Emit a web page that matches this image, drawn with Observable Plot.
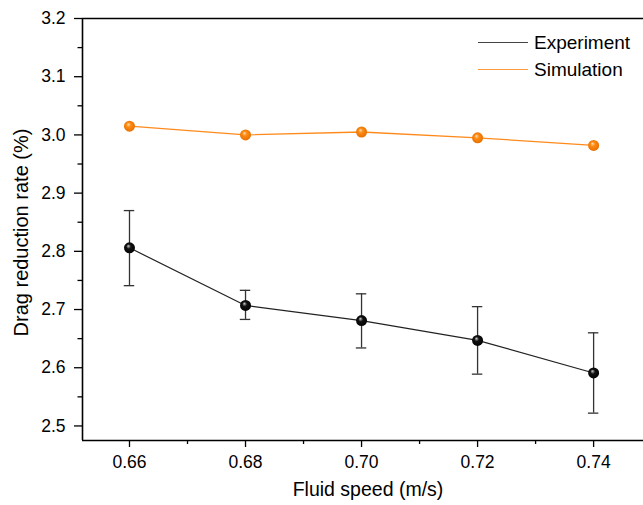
<!DOCTYPE html>
<html><head><meta charset="utf-8">
<script src="https://cdn.jsdelivr.net/npm/d3@7"></script>
<script src="https://cdn.jsdelivr.net/npm/@observablehq/plot@0.6"></script>
<style>
body{margin:0;background:#fff;font-family:"Liberation Sans",Arial,sans-serif}
#chart{position:relative;width:643px;height:505px;overflow:hidden}
#legend{position:absolute;left:478px;top:29px;font-size:19px;color:#000;line-height:27px}
#legend div{display:flex;align-items:center}
#legend span.l{display:inline-block;width:50px;height:0;margin-right:6px}
</style>
</head><body><div id="chart"><div id="legend"></div></div>
<script>
const speeds = [0.66, 0.68, 0.70, 0.72, 0.74];
const experiment = [2.806, 2.707, 2.681, 2.647, 2.591];
const expUpper = [2.870, 2.733, 2.727, 2.705, 2.660];
const expLower = [2.741, 2.683, 2.634, 2.589, 2.522];
const simulation = [3.015, 3.000, 3.005, 2.995, 2.982];
const xTicks = [0.66, 0.68, 0.70, 0.72, 0.74];
const xMinor = [0.67, 0.69, 0.71, 0.73];
const yTicks = [2.5, 2.6, 2.7, 2.8, 2.9, 3.0, 3.1, 3.2];
const yMinor = [2.55, 2.65, 2.75, 2.85, 2.95, 3.05, 3.15];
const seriesNames = ["Experiment", "Simulation"];
const seriesColors = ["#222222", "#ff8a1c"];
const xLabel = "Fluid speed (m/s)";
const yLabel = "Drag reduction rate (%)";

const xDomain = [0.6519, 0.7486];
const yDomain = [2.475, 3.2];
const capW = 0.0009;

const expData = speeds.map((s, i) => ({x: s, y: experiment[i], hi: expUpper[i], lo: expLower[i]}));
const simData = speeds.map((s, i) => ({x: s, y: simulation[i]}));

const plot = Plot.plot({
  width: 643,
  height: 505,
  marginLeft: 82,
  marginRight: 0,
  marginTop: 18,
  marginBottom: 65,
  style: {fontFamily: '"Liberation Sans", Arial, sans-serif', fontSize: "17px", color: "#000", background: "#fff"},
  x: {domain: xDomain},
  y: {domain: yDomain},
  marks: [
    Plot.axisY(yTicks, {tickSize: 8, tickPadding: 9, tickFormat: d3.format(".1f"), label: null, strokeWidth: 1.3, fontSize: 17.5}),
    Plot.axisY(yMinor, {tickSize: 4.5, tickFormat: () => "", label: null, strokeWidth: 1.3}),
    Plot.axisX(xTicks, {tickSize: 7, tickPadding: 8, tickFormat: d3.format(".2f"), label: null, strokeWidth: 1.3, fontSize: 17.5}),
    Plot.axisX(xMinor, {tickSize: 4, tickFormat: () => "", label: null, strokeWidth: 1.3}),
    Plot.ruleX([xDomain[0]], {stroke: "#000", strokeWidth: 1.6}),
    Plot.ruleY([yDomain[0]], {stroke: "#000", strokeWidth: 1.6}),
    Plot.ruleY([yDomain[1]], {stroke: "#000", strokeWidth: 1.6}),
    Plot.text([xLabel], {frameAnchor: "bottom", dy: 55, dx: 5, fontSize: 19.5, fill: "#000"}),
    Plot.text([yLabel], {frameAnchor: "left", textAnchor: "middle", dx: -61, dy: 3, rotate: -90, fontSize: 20, fill: "#000"}),
    // error bars
    Plot.ruleX(expData, {x: "x", y1: "lo", y2: "hi", stroke: "#333", strokeWidth: 1.3}),
    Plot.ruleY(expData, {y: "hi", x1: d => d.x - capW, x2: d => d.x + capW, stroke: "#333", strokeWidth: 1.3}),
    Plot.ruleY(expData, {y: "lo", x1: d => d.x - capW, x2: d => d.x + capW, stroke: "#333", strokeWidth: 1.3}),
    Plot.line(expData, {x: "x", y: "y", stroke: seriesColors[0], strokeWidth: 1.2}),
    Plot.line(simData, {x: "x", y: "y", stroke: seriesColors[1], strokeWidth: 1.3}),
    Plot.dot(expData, {x: "x", y: "y", r: 5.5, fill: "url(#gBlack)", stroke: "none"}),
    Plot.dot(simData, {x: "x", y: "y", r: 5.5, fill: "url(#gOrange)", stroke: "none"})
  ]
});

// glossy sphere gradients
const svg = d3.select(plot);
const defs = svg.insert("defs", ":first-child");
function grad(id, c0, c1, c2) {
  const g = defs.append("radialGradient").attr("id", id).attr("cx", "0.5").attr("cy", "0.5").attr("r", "0.6").attr("fx", "0.38").attr("fy", "0.32");
  g.append("stop").attr("offset", "0").attr("stop-color", c0);
  g.append("stop").attr("offset", "0.35").attr("stop-color", c1);
  g.append("stop").attr("offset", "1").attr("stop-color", c2);
}
grad("gBlack", "#d0d0d0", "#111", "#000");
grad("gOrange", "#ffe0b8", "#ff8a10", "#e06a00");

const chart = document.getElementById("chart");
chart.insertBefore(plot, chart.firstChild);
plot.style.position = "absolute";
plot.style.left = "0";
plot.style.top = "0";

const legend = d3.select("#legend");
seriesNames.forEach((n, i) => {
  const row = legend.append("div");
  row.append("span").attr("class", "l").style("border-top", `1.5px solid ${i === 0 ? "#444" : "#ff9a40"}`);
  row.append("span").text(n);
});
</script>
</body></html>
